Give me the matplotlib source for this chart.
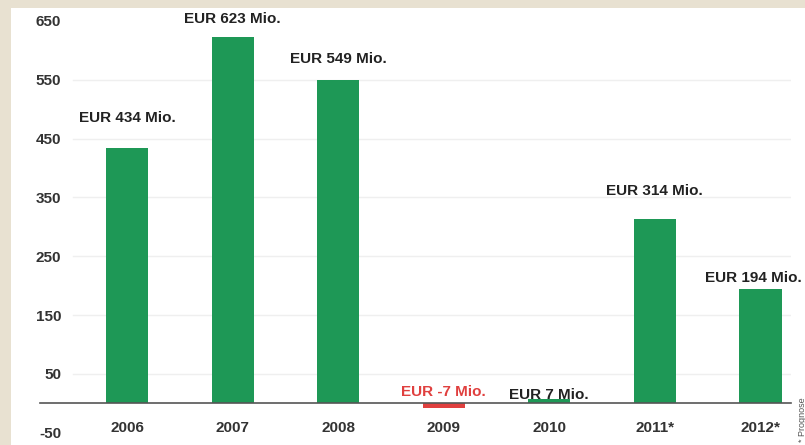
import matplotlib
matplotlib.use("Agg")
import matplotlib.pyplot as plt
from matplotlib.patches import Rectangle

# data
years = ["2006", "2007", "2008", "2009", "2010", "2011*", "2012*"]
values = [434, 623, 549, -7, 7, 314, 194]
yticks = [650, 550, 450, 350, 250, 150, 50, -50]

# label placement above bar value (data units) and sideways nudge (points)
label_offset = [51, 31, 37, 26, 7, 47, 19]
label_dx = [0, 0, 0, 0, 0, 0, -5]

green = "#1e9856"
red = "#e0403f"
text_col = "#222222"

plt.rcParams['font.family'] = ['Liberation Sans', 'DejaVu Sans']

fig = plt.figure(figsize=(8.05, 4.45), dpi=100)
fig.patch.set_facecolor("#e8e1d1")
fig.patches.append(Rectangle((11 / 805, 0), 1, (445 - 8) / 445,
                             transform=fig.transFigure, facecolor="white",
                             edgecolor="none", zorder=-1))

ax = fig.add_axes([39.5 / 805, 0, 751.5 / 805, (445 - 8) / 445])
ax.set_facecolor("none")
ax.set_zorder(1)

x = list(range(len(years)))
colors = [red if v < 0 else green for v in values]
ax.bar(x, values, width=0.4, color=colors, zorder=3)

# faint grid lines
for t in yticks[1:-1]:
    ax.axhline(t, xmin=(73 - 39.5) / 751.5, xmax=1, color="#efefef", lw=1, zorder=1)

for i, v in enumerate(values):
    col = red if v < 0 else text_col
    ax.annotate("EUR %d Mio." % v, (i, v + label_offset[i]),
                xytext=(label_dx[i], 0), textcoords="offset points",
                ha="center", va="center", fontsize=11, fontweight="bold",
                color=col, zorder=5, annotation_clip=False)

ax.set_xlim(-0.83, 6.29)
ax.set_ylim(-70.7, 672)

for s in ["top", "right", "left"]:
    ax.spines[s].set_visible(False)
ax.spines["bottom"].set_position(("data", 0))
ax.spines["bottom"].set_color("#555555")
ax.spines["bottom"].set_linewidth(1.2)
ax.spines["bottom"].set_zorder(4)

ax.set_xticks(x)
ax.set_xticklabels(years, fontsize=11, fontweight="bold", color="#333333")
ax.tick_params(axis="x", length=0, pad=12.5)

ax.set_yticks(yticks)
ax.set_yticklabels([str(t) for t in yticks], fontsize=11, fontweight="bold", color="#333333")
ax.tick_params(axis="y", length=0, pad=-15.5)

fig.text(802 / 805, 3 / 445, "* Prognose", rotation=90, ha="center", va="bottom",
         fontsize=6.5, color="#555555")

fig.savefig("out.png", dpi=100, facecolor=fig.get_facecolor())
